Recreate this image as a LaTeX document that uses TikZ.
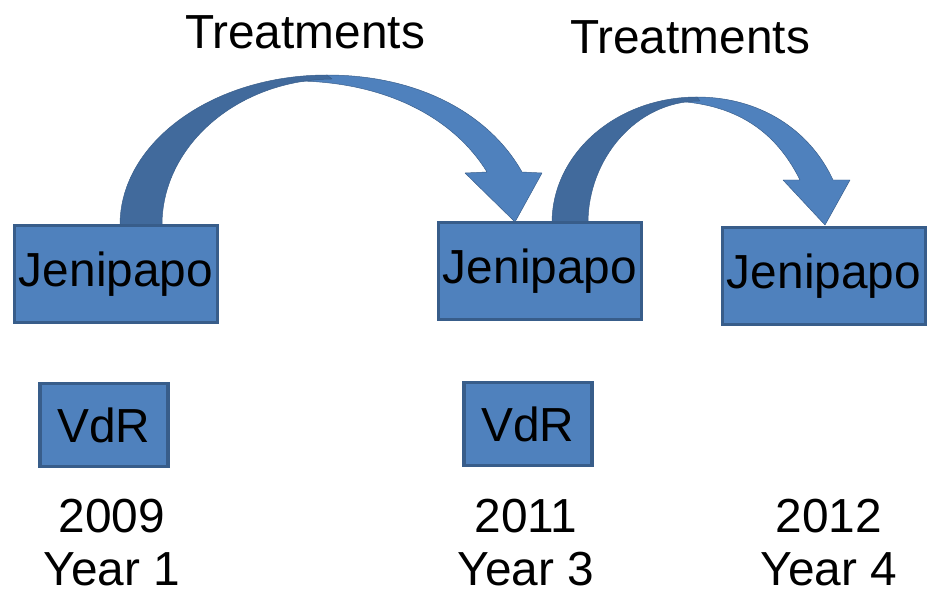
\documentclass[tikz,border=0pt]{standalone}
\usepackage{fontspec}
\setmainfont{Liberation Sans}
\usetikzlibrary{backgrounds}
\definecolor{boxblue}{HTML}{4F81BD}
\definecolor{boxedge}{HTML}{385D8A}
\definecolor{bandback}{HTML}{416A9C}

\begin{document}
\begin{tikzpicture}[
        x=0.03cm, y=-0.03cm,
        line width=3pt,
        font=\fontsize{40.8}{45.2}\selectfont
    ]
    \tikzset{
        sitebox/.style = {rectangle, draw=boxedge, fill=boxblue, inner sep=0pt, minimum width=6.1cm, minimum height=2.9cm},
        vdrbox/.style = {sitebox, minimum width=3.85cm, minimum height=2.48cm},
        yearlabel/.style = {align=center, inner sep=0pt},
        bandfront/.style = {draw=boxedge, fill=boxblue, line join=round},
        bandrear/.style = {draw=boxedge, fill=bandback, line join=round},
    }
    \useasboundingbox (0,0) rectangle (927,597);

    \node[sitebox] (jen1) at (116,274) {Jenipapo};
    \node[sitebox] (jen2) at (540,271) {Jenipapo};
    \node[sitebox] (jen3) at (824,276) {Jenipapo};
    \node[vdrbox] (vdr1) at (104,425) {VdR};
    \node[vdrbox] (vdr2) at (528,424) {VdR};

    \node[yearlabel] (yr1) at (112,543) {2009\\Year 1};
    \node[yearlabel] (yr3) at (526,543) {2011\\Year 3};
    \node[yearlabel] (yr4) at (829,543) {2012\\Year 4};

    \node[inner sep=0pt] (treat1) at (305,32) {Treatments};
    \node[inner sep=0pt] (treat2) at (690,37) {Treatments};

    \begin{pgfonlayer}{background}
    % first bent arrow, jen1 to jen2
    \draw[bandfront] (327,75) .. controls (420,75) and (490,115) .. (522,172)
        -- (542,173) -- (515,222) -- (465,173) -- (487,172)
        .. controls (455,120) and (390,83) .. (300,81) -- cycle;
    \draw[bandrear] (120,225) .. controls (120,142) and (213,75) .. (327,75)
        -- (332,79) .. controls (237,80) and (162,146) .. (162,225) -- cycle;
    % second bent arrow, jen2 to jen3
    \draw[bandfront] (697,97) .. controls (760,97) and (810,130) .. (833,180)
        -- (850,180) -- (825,225) -- (783,180) -- (800,180)
        .. controls (780,140) and (745,103) .. (670,101) -- cycle;
    \draw[bandrear] (552,223) .. controls (552,153) and (617,97) .. (697,97)
        -- (700,101) .. controls (635,101) and (588,160) .. (588,223) -- cycle;
    \end{pgfonlayer}
\end{tikzpicture}
\end{document}
